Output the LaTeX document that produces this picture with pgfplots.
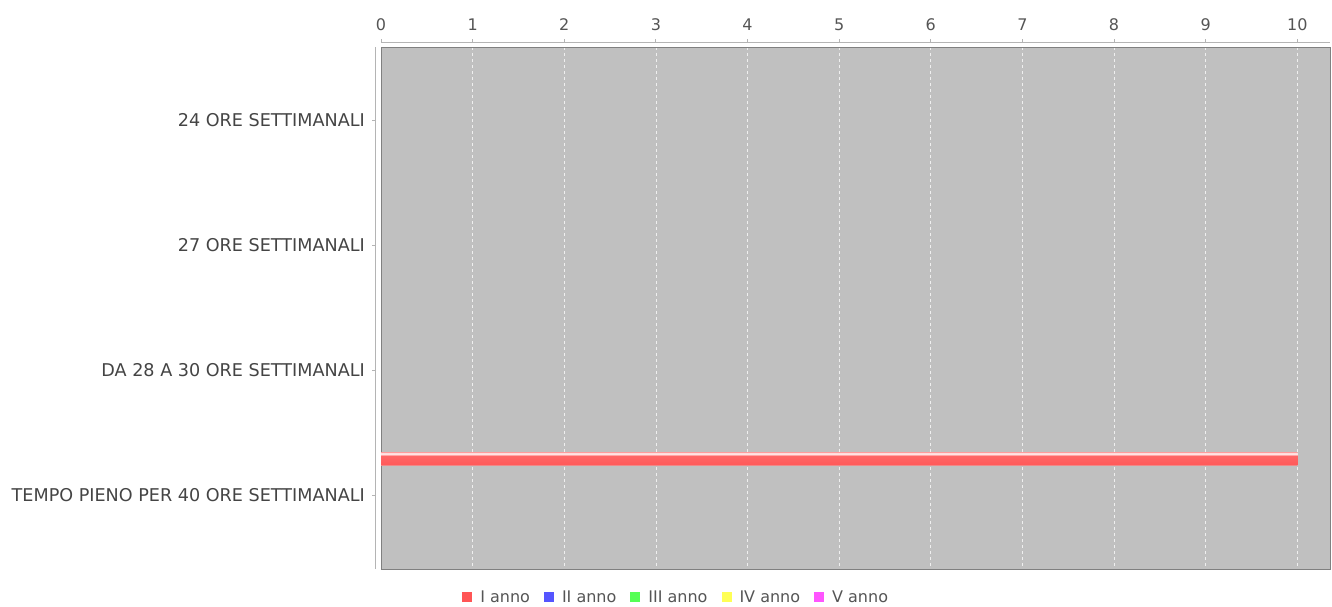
\documentclass[border=0pt]{standalone}
\usepackage{pgfplots}
\pgfplotsset{compat=1.18}
\usepackage{fontspec}
\setmainfont{DejaVu Sans}
\definecolor{plotbg}{HTML}{C0C0C0}
\definecolor{framegray}{HTML}{808080}
\definecolor{axgray}{HTML}{B4B4B4}
\definecolor{labelgray}{HTML}{444444}
\definecolor{tickgray}{HTML}{555555}
\definecolor{cI}{HTML}{FF5555}
\definecolor{cII}{HTML}{5555FF}
\definecolor{cIII}{HTML}{55FF55}
\definecolor{cIV}{HTML}{FFFF55}
\definecolor{cV}{HTML}{FF55FF}
\definecolor{barbot}{HTML}{F08888}
\definecolor{barred}{HTML}{FF5A5A}
\definecolor{barred2}{HTML}{FF6868}
\definecolor{barhl}{HTML}{FFE4E4}
\definecolor{bartop}{HTML}{FF9C9C}
\pgfdeclareverticalshading{barshade}{100bp}{color(0bp)=(barbot); color(25bp)=(barbot); color(29bp)=(barred); color(62bp)=(barred2); color(65bp)=(barhl); color(71bp)=(barhl); color(73bp)=(bartop); color(75bp)=(bartop); color(100bp)=(bartop)}
\begin{document}
\begin{tikzpicture}
\path[use as bounding box] (0pt,0pt) rectangle (1332pt,606pt);
\begin{axis}[
  at={(381pt,37pt)}, anchor=south west,
  scale only axis, width=949pt, height=522pt,
  xbar, bar width=13pt,
  xmin=0, xmax=10.357, ymin=-0.584, ymax=3.592, y dir=reverse,
  xtick={0,1,2,3,4,5,6,7,8,9,10}, ytick={0,1,2,3},
  yticklabels={24 ORE SETTIMANALI, 27 ORE SETTIMANALI, DA 28 A 30 ORE SETTIMANALI, TEMPO PIENO PER 40 ORE SETTIMANALI},
  xticklabel pos=upper,
  /pgf/number format/assume math mode=true,
  major tick length=0pt,
  clip=false,
  axis background/.style={fill=plotbg},
  axis line style={draw=framegray, line width=1pt},
  xmajorgrids, grid style={white!75!plotbg, dash pattern=on 3pt off 3pt, line width=0.7pt},
  xticklabel style={font=\fontsize{16}{19}\selectfont, text=tickgray, inner sep=0pt, anchor=south, yshift=16pt},
  yticklabel style={font=\fontsize{17.6}{20}\selectfont, text=labelgray, inner sep=0pt, anchor=east, xshift=-16pt},
  legend columns=5,
  legend style={at={(0.31,-0.0536)}, anchor=center, draw=none, fill=none, inner sep=0pt,
    font=\fontsize{16}{19}\selectfont, text=tickgray,
    nodes={inner sep=0pt},
    /tikz/every odd column/.append style={column sep=8pt},
    /tikz/every even column/.append style={column sep=14pt}},
  legend image code/.code={\fill[#1, draw=none] (0pt,-5pt) rectangle (10pt,5pt);},
]
\addplot[xbar, bar shift=36.5pt, draw=none, shading=barshade, forget plot] coordinates {(10,3)};
\addlegendimage{fill=cI}\addlegendentry{I anno}
\addlegendimage{fill=cII}\addlegendentry{II anno}
\addlegendimage{fill=cIII}\addlegendentry{III anno}
\addlegendimage{fill=cIV}\addlegendentry{IV anno}
\addlegendimage{fill=cV}\addlegendentry{V anno}
\draw[axgray, line width=1pt] ([yshift=5pt]axis description cs:0,1) -- ([yshift=5pt]axis description cs:1,1);
\draw[axgray, line width=1pt] ([xshift=-5.5pt]axis description cs:0,0) -- ([xshift=-5.5pt]axis description cs:0,1);
\pgfplotsinvokeforeach{0,1,2,3,4,5,6,7,8,9,10}{\draw[axgray, line width=1pt] ([yshift=5pt]axis cs:#1,-0.584) -- ([yshift=8pt]axis cs:#1,-0.584);}
\pgfplotsinvokeforeach{0,1,2,3}{\draw[axgray, line width=1pt] ([xshift=-5.5pt]axis cs:0,#1) -- ([xshift=-9.5pt]axis cs:0,#1);}
\end{axis}
\end{tikzpicture}
\end{document}
